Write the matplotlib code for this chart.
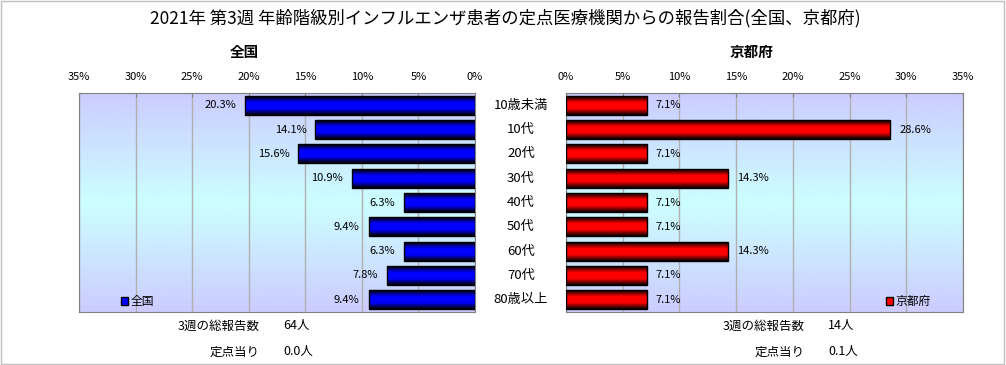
import numpy as np
import matplotlib.pyplot as plt
from matplotlib.colors import LinearSegmentedColormap
from matplotlib.patches import Patch, Rectangle
from matplotlib.transforms import blended_transform_factory

plt.rcParams['font.family'] = ['Noto Sans CJK JP', 'DejaVu Sans']

title = "2021年 第3週 年齢階級別インフルエンザ患者の定点医療機関からの報告割合(全国、京都府)"
ages = ["10歳未満", "10代", "20代", "30代", "40代", "50代", "60代", "70代", "80歳以上"]
zenkoku = [20.3, 14.1, 15.6, 10.9, 6.3, 9.4, 6.3, 7.8, 9.4]
kyoto = [7.1, 28.6, 7.1, 14.3, 7.1, 7.1, 14.3, 7.1, 7.1]
xticks = [0, 5, 10, 15, 20, 25, 30, 35]
totals = {"全国": ("64人", "0.0人"), "京都府": ("14人", "0.1人")}

W, H = 1006, 365
fig = plt.figure(figsize=(W / 100, H / 100), dpi=100)
fig.patches.append(Rectangle((0.001, 0.002), 0.997, 0.995, transform=fig.transFigure,
                             fill=False, edgecolor='#c0c0c0', lw=1))

bg_cmap = LinearSegmentedColormap.from_list("bg", ["#ccccff", "#ccffff", "#ccccff"])
bg = np.linspace(0, 1, 256).reshape(-1, 1)


def bar_cmap(c):
    return LinearSegmentedColormap.from_list("b", ["#000000", c, c, "#000000"])


grad = np.linspace(0, 1, 64).reshape(-1, 1)


def panel(rect, vals, color, name, left):
    ax = fig.add_axes(rect)
    y = np.arange(len(ages))
    ax.imshow(bg, extent=(0, 35, len(ages) - 0.5, -0.5), cmap=bg_cmap, aspect='auto', zorder=0)
    for t in xticks:
        ax.axvline(t, color='#b0b0b0', lw=1, zorder=1)
    bars = ax.barh(y, vals, height=0.78, color=color, edgecolor='black', lw=1, zorder=3)
    cm = bar_cmap(color)
    for b, v in zip(bars, vals):
        y0 = b.get_y()
        ax.imshow(grad, extent=(0, v, y0, y0 + b.get_height()), cmap=cm,
                  aspect='auto', zorder=2.5, interpolation='bilinear')
        b.set_facecolor('none')
        lab = f"{v:.1f}%"
        ax.text(v + 0.8, y0 + b.get_height() / 2, lab, ha='right' if left else 'left',
                va='center', fontsize=8)
    ax.set_xlim((35, 0) if left else (0, 35))
    ax.set_ylim(len(ages) - 0.5, -0.5)
    ax.xaxis.tick_top()
    ax.set_xticks(xticks, [f"{t}%" for t in xticks], fontsize=8)
    ax.tick_params(axis='x', direction='in', length=3, color='#808080', pad=8)
    ax.set_yticks([])
    for s in ax.spines.values():
        s.set_color('#808080')
    ax.legend(handles=[Patch(facecolor=color, edgecolor='black', label=name)],
              loc='lower left' if left else 'lower right',
              bbox_to_anchor=(0.08, -0.03) if left else (0.945, -0.03),
              handlelength=0.6, handleheight=0.6, handletextpad=0.2,
              frameon=False, fontsize=8.5)
    return ax


axl = panel([79 / W, 53 / H, 396 / W, 219 / H], zenkoku, '#0000ff', "全国", True)
axr = panel([566 / W, 53 / H, 397 / W, 219 / H], kyoto, '#ff0000', "京都府", False)

fig.text(244 / W, 1 - 52 / H, "全国", ha='center', va='center', fontsize=10.5, fontweight='bold')
fig.text(752 / W, 1 - 52 / H, "京都府", ha='center', va='center', fontsize=10.5, fontweight='bold')

tr = blended_transform_factory(fig.transFigure, axl.transData)
for i, a in enumerate(ages):
    axl.text(521 / W, i, a, transform=tr, ha='center', va='center', fontsize=9.5)

fig.text(505 / W, 1 - 18 / H, title, ha='center', va='center', fontsize=12.5)

for name, xr in (("全国", 260), ("京都府", 805)):
    n, per = totals[name]
    fig.text(xr / W, 1 - 326 / H, "3週の総報告数", ha='right', va='center', fontsize=9)
    fig.text((xr + 23) / W, 1 - 326 / H, n, ha='left', va='center', fontsize=9)
    fig.text(xr / W, 1 - 352 / H, "定点当り", ha='right', va='center', fontsize=9)
    fig.text((xr + 23) / W, 1 - 352 / H, per, ha='left', va='center', fontsize=9)

fig.savefig("out.png", dpi=100)
